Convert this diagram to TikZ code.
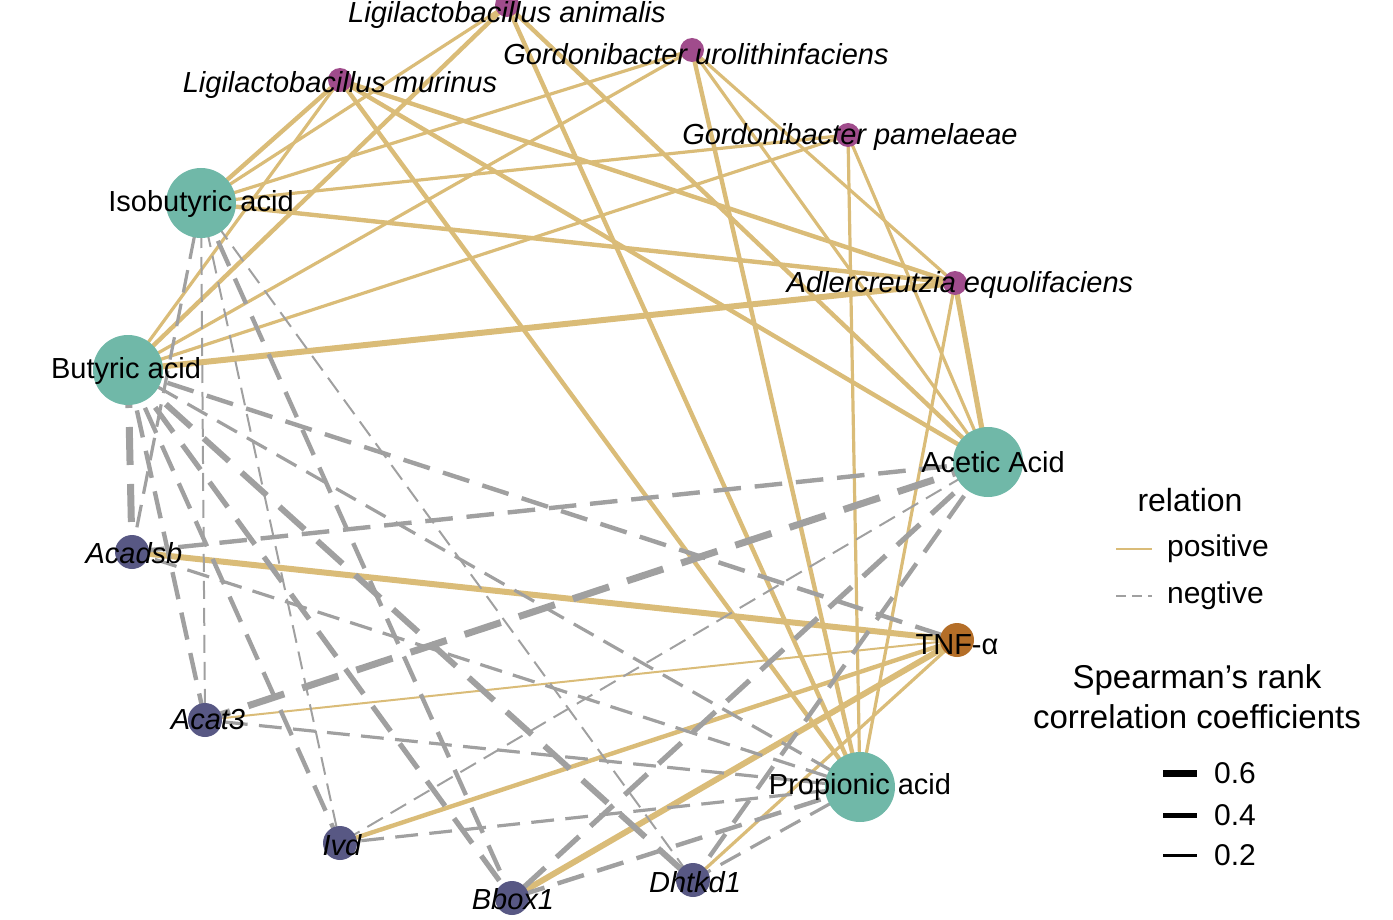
\documentclass[tikz,border=0pt]{standalone}
\usepackage{fontspec}
\setmainfont{Liberation Sans}
\begin{document}
\begin{tikzpicture}[x=0.5pt,y=-0.5pt,
  pe/.style={draw={rgb,255:red,218;green,188;blue,120},line width=#1},
  ne/.style={draw={rgb,255:red,160;green,160;blue,160},line width=#1,dash pattern=on 5pt+4*#1 off 2.5pt+2*#1},
  dot/.style={circle,inner sep=0pt,minimum size=#1},
  lab/.style={font=\fontsize{14.5}{17}\selectfont},
  ilab/.style={font=\fontsize{14.5}{17}\selectfont\itshape}]
\useasboundingbox (0,0) rectangle (1393,920);
\colorlet{teal}{rgb,255:red,112;green,184;blue,168}
\colorlet{purp}{rgb,255:red,160;green,76;blue,140}
\colorlet{navy}{rgb,255:red,88;green,88;blue,132}
\colorlet{brn}{rgb,255:red,180;green,110;blue,40}
\coordinate (la) at (507,5);
\coordinate (gu) at (692,50);
\coordinate (lm) at (340,80);
\coordinate (gp) at (848,135);
\coordinate (ae) at (955,283);
\coordinate (ib) at (201,203);
\coordinate (bu) at (128,370);
\coordinate (ac) at (988,462);
\coordinate (ad) at (132,552);
\coordinate (tn) at (957,640);
\coordinate (a3) at (205,720);
\coordinate (iv) at (340,843);
\coordinate (bb) at (512,898);
\coordinate (dh) at (693,880);
\coordinate (pr) at (860,787);
% positive
\draw[pe=1.6pt] (la)--(ib); \draw[pe=2.2pt] (la)--(bu); \draw[pe=2.2pt] (la)--(pr); \draw[pe=2.2pt] (la)--(ac);
\draw[pe=1.6pt] (gu)--(ib); \draw[pe=1.6pt] (gu)--(bu); \draw[pe=1.6pt] (gu)--(ae); \draw[pe=1.6pt] (gu)--(ac); \draw[pe=2.2pt] (gu)--(pr);
\draw[pe=2.2pt] (lm)--(ib); \draw[pe=1.6pt] (lm)--(bu); \draw[pe=2.2pt] (lm)--(ae); \draw[pe=2.2pt] (lm)--(pr); \draw[pe=2.2pt] (lm)--(ac);
\draw[pe=1.6pt] (gp)--(ib); \draw[pe=1.6pt] (gp)--(bu); \draw[pe=1.6pt] (gp)--(ac); \draw[pe=1.6pt] (gp)--(pr);
\draw[pe=2.2pt] (ae)--(ib); \draw[pe=3pt] (ae)--(bu); \draw[pe=2.6pt] (ae)--(ac); \draw[pe=1.6pt] (ae)--(pr);
\draw[pe=3pt] (tn)--(ad); \draw[pe=1pt] (tn)--(a3); \draw[pe=2.2pt] (tn)--(iv); \draw[pe=3pt] (tn)--(bb); \draw[pe=1.6pt] (tn)--(dh);
% negative
\draw[ne=1.6pt] (ib)--(ad); \draw[ne=1pt] (ib)--(a3); \draw[ne=1pt] (ib)--(iv); \draw[ne=2.2pt] (ib)--(bb); \draw[ne=1pt] (ib)--(dh);
\draw[ne=3.5pt] (bu)--(ad); \draw[ne=2.2pt] (bu)--(a3); \draw[ne=2.2pt] (bu)--(iv); \draw[ne=2.6pt] (bu)--(bb); \draw[ne=3pt] (bu)--(dh);
\draw[ne=1.6pt] (bu)--(pr); \draw[ne=2.2pt] (bu)--(tn);
\draw[ne=2.2pt] (ac)--(ad); \draw[ne=3.5pt] (ac)--(a3); \draw[ne=1pt] (ac)--(iv); \draw[ne=2.6pt] (ac)--(bb); \draw[ne=2.2pt] (ac)--(dh);
\draw[ne=1.6pt] (pr)--(a3); \draw[ne=1.6pt] (pr)--(iv); \draw[ne=2.2pt] (pr)--(bb); \draw[ne=1.6pt] (pr)--(dh); \draw[ne=1.6pt] (pr)--(ad);
% nodes
\node[dot=12pt,fill=purp] (nla) at (la) {};
\node[dot=12pt,fill=purp] (ngu) at (gu) {};
\node[dot=12pt,fill=purp] (nlm) at (lm) {};
\node[dot=12pt,fill=purp] (ngp) at (gp) {};
\node[dot=12pt,fill=purp] (nae) at (ae) {};
\node[dot=35pt,fill=teal] (nib) at (ib) {};
\node[dot=35pt,fill=teal] (nbu) at (bu) {};
\node[dot=35pt,fill=teal] (nac) at (ac) {};
\node[dot=35pt,fill=teal] (npr) at (pr) {};
\node[dot=17pt,fill=navy] (nad) at (ad) {};
\node[dot=17pt,fill=navy] (na3) at (a3) {};
\node[dot=17pt,fill=navy] (niv) at (iv) {};
\node[dot=17pt,fill=navy] (nbb) at (bb) {};
\node[dot=17pt,fill=navy] (ndh) at (dh) {};
\node[dot=17pt,fill=brn] (ntn) at (tn) {};
% labels
\node[ilab] at (507,15) {Ligilactobacillus animalis};
\node[ilab] at (696,54) {Gordonibacter urolithinfaciens};
\node[ilab] at (340,85) {Ligilactobacillus murinus};
\node[ilab] at (850,137) {Gordonibacter pamelaeae};
\node[ilab] at (960,285) {Adlercreutzia equolifaciens};
\node[lab] at (201,204) {Isobutyric acid};
\node[lab] at (126,371) {Butyric acid};
\node[lab] at (993,462) {Acetic Acid};
\node[ilab] at (134,553) {Acadsb};
\node[lab] at (957,645) {TNF-α};
\node[ilab] at (208,720) {Acat3};
\node[ilab] at (342,845) {Ivd};
\node[ilab] at (513,899) {Bbox1};
\node[ilab] at (695,882) {Dhtkd1};
\node[lab] at (860,787) {Propionic acid};
% legend
\node[font=\fontsize{16}{19}\selectfont] (lt) at (1190,500) {relation};
\coordinate (l1a) at (1116,549); \coordinate (l1b) at (1152,549);
\draw[pe=1pt] (l1a)--(l1b);
\node[font=\fontsize{15}{18}\selectfont,anchor=west] (lp) at (1160,549) {positive};
\coordinate (l2a) at (1116,596); \coordinate (l2b) at (1152,596);
\draw[ne=1pt,dash pattern=on 5pt off 3pt] (l2a)--(l2b);
\node[font=\fontsize{15}{18}\selectfont,anchor=west] (ln) at (1160,596) {negtive};
\node[font=\fontsize{16.5}{20}\selectfont,align=center] (st) at (1197,697) {Spearman{\char39}s rank\\correlation coefficients};
\foreach \yy/\w/\t in {773/3.5pt/0.6, 815/2.5pt/0.4, 855/1.5pt/0.2}{
  \draw[line width=\w] (1163,\yy)--(1197,\yy);
  \node[font=\fontsize{15}{18}\selectfont,anchor=west] at (1207,\yy) {\t};
}
\end{tikzpicture}
\end{document}
